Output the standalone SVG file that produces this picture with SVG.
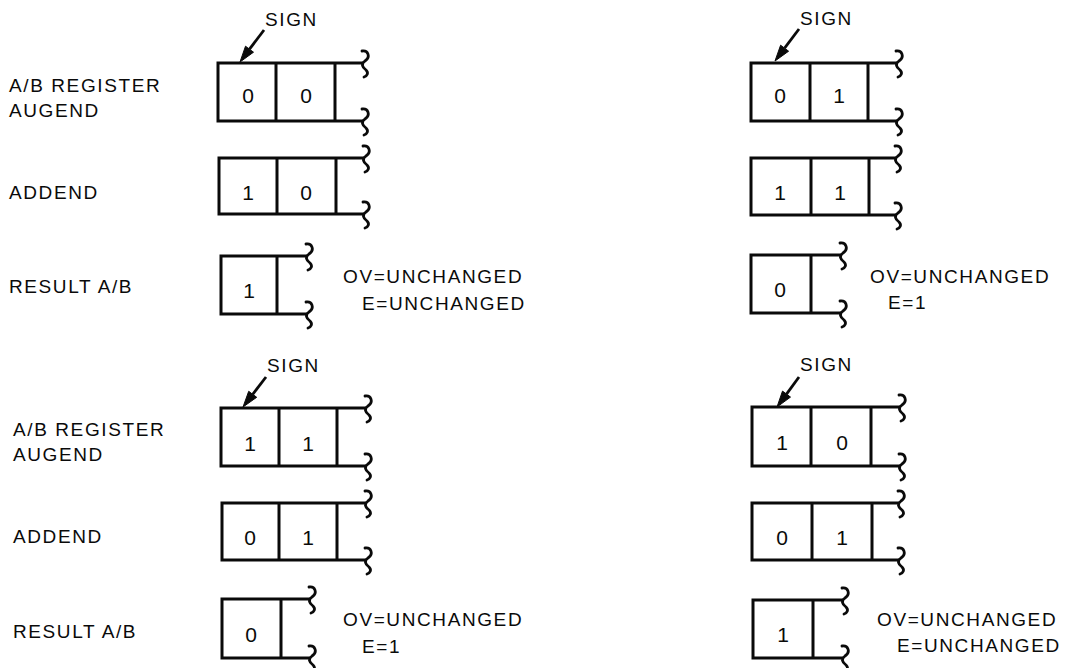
<svg xmlns="http://www.w3.org/2000/svg" width="1065" height="668" viewBox="0 0 1065 668">
<style>
.ln{stroke:#0a0a0a;stroke-width:3;fill:none;stroke-linecap:square}
.sq{stroke:#0a0a0a;stroke-width:2.8;fill:none;stroke-linecap:round}
.t{font-family:"Liberation Sans",Arial,Helvetica,sans-serif;font-size:19px;letter-spacing:1.6px;fill:#0a0a0a}
.d{font-family:"Liberation Sans",Arial,Helvetica,sans-serif;font-size:21px;text-anchor:middle;fill:#0a0a0a}
.ar{stroke:#0a0a0a;stroke-width:2.8;fill:none}
.ah{fill:#0a0a0a;stroke:#0a0a0a;stroke-width:1;stroke-linejoin:miter}
</style>
<defs>
<path id="sq" d="M0,-12 C6,-13 9,-6 3,-2 C-1,1 0,4 4,7 C7,10 5,13 2,14"/>
</defs>
<rect width="1065" height="668" fill="#ffffff"/>

<g id="labels-top">
<text class="t" x="9" y="92">A/B REGISTER</text>
<text class="t" x="9" y="117">AUGEND</text>
<text class="t" x="9" y="199">ADDEND</text>
<text class="t" x="9" y="293">RESULT A/B</text>
</g>
<g id="labels-bottom">
<text class="t" x="13" y="436">A/B REGISTER</text>
<text class="t" x="13" y="461">AUGEND</text>
<text class="t" x="13" y="543">ADDEND</text>
<text class="t" x="13" y="638">RESULT A/B</text>
</g>

<!-- Top-left example -->
<g id="tl-augend">
<path class="ln" d="M218,63 H362 M218,121 H362 M218,63 V121 M276,63 V121 M335,63 V121"/>
<use href="#sq" class="sq" x="362" y="63"/><use href="#sq" class="sq" x="362" y="121"/>
<text class="d" x="248" y="103">0</text><text class="d" x="306" y="103">0</text>
</g>
<g id="tl-addend">
<path class="ln" d="M219,158 H363 M219,214 H363 M219,158 V214 M277,158 V214 M336,158 V214"/>
<use href="#sq" class="sq" x="363" y="158"/><use href="#sq" class="sq" x="363" y="214"/>
<text class="d" x="248" y="200">1</text><text class="d" x="306" y="200">0</text>
</g>
<g id="tl-result">
<path class="ln" d="M221,256 H306 M221,314 H306 M221,256 V314 M277,256 V314"/>
<use href="#sq" class="sq" x="306" y="256"/><use href="#sq" class="sq" x="306" y="314"/>
<text class="d" x="249" y="298">1</text>
<text class="t" x="343" y="283">OV=UNCHANGED</text>
<text class="t" x="362" y="310">E=UNCHANGED</text>
</g>
<g id="tl-sign"><text class="t" x="265" y="26">SIGN</text></g>

<!-- Top-right example -->
<g id="tr-augend">
<path class="ln" d="M751,63 H896 M751,121 H896 M751,63 V121 M810,63 V121 M868,63 V121"/>
<use href="#sq" class="sq" x="896" y="63"/><use href="#sq" class="sq" x="896" y="121"/>
<text class="d" x="780" y="103">0</text><text class="d" x="839" y="103">1</text>
</g>
<g id="tr-addend">
<path class="ln" d="M751,158 H895 M751,215 H895 M751,158 V215 M811,158 V215 M869,158 V215"/>
<use href="#sq" class="sq" x="895" y="158"/><use href="#sq" class="sq" x="895" y="215"/>
<text class="d" x="780" y="200">1</text><text class="d" x="840" y="200">1</text>
</g>
<g id="tr-result">
<path class="ln" d="M751,255 H840 M751,313 H840 M751,255 V313 M811,255 V313"/>
<use href="#sq" class="sq" x="840" y="255"/><use href="#sq" class="sq" x="840" y="313"/>
<text class="d" x="780" y="297">0</text>
<text class="t" x="870" y="283">OV=UNCHANGED</text>
<text class="t" x="888" y="309">E=1</text>
</g>
<g id="tr-sign"><text class="t" x="800" y="25">SIGN</text></g>

<!-- Bottom-left example -->
<g id="bl-augend">
<path class="ln" d="M221,408 H365 M221,466 H365 M221,408 V466 M279,408 V466 M337,408 V466"/>
<use href="#sq" class="sq" x="365" y="408"/><use href="#sq" class="sq" x="365" y="466"/>
<text class="d" x="250" y="451">1</text><text class="d" x="308" y="451">1</text>
</g>
<g id="bl-addend">
<path class="ln" d="M222,503 H365 M222,560 H365 M222,503 V560 M279,503 V560 M337,503 V560"/>
<use href="#sq" class="sq" x="365" y="503"/><use href="#sq" class="sq" x="365" y="560"/>
<text class="d" x="250" y="545">0</text><text class="d" x="308" y="545">1</text>
</g>
<g id="bl-result">
<path class="ln" d="M222,599 H309 M222,658 H309 M222,599 V658 M281,599 V658"/>
<use href="#sq" class="sq" x="309" y="599"/><use href="#sq" class="sq" x="309" y="658"/>
<text class="d" x="251" y="642">0</text>
<text class="t" x="343" y="626">OV=UNCHANGED</text>
<text class="t" x="362" y="653">E=1</text>
</g>
<g id="bl-sign"><text class="t" x="267" y="372">SIGN</text></g>

<!-- Bottom-right example -->
<g id="br-augend">
<path class="ln" d="M752,407 H899 M752,466 H899 M752,407 V466 M811,407 V466 M871,407 V466"/>
<use href="#sq" class="sq" x="899" y="407"/><use href="#sq" class="sq" x="899" y="466"/>
<text class="d" x="782" y="450">1</text><text class="d" x="842" y="450">0</text>
</g>
<g id="br-addend">
<path class="ln" d="M752,503 H898 M752,560 H898 M752,503 V560 M812,503 V560 M872,503 V560"/>
<use href="#sq" class="sq" x="898" y="503"/><use href="#sq" class="sq" x="898" y="560"/>
<text class="d" x="782" y="545">0</text><text class="d" x="842" y="545">1</text>
</g>
<g id="br-result">
<path class="ln" d="M753,600 H842 M753,658 H842 M753,600 V658 M813,600 V658"/>
<use href="#sq" class="sq" x="842" y="600"/><use href="#sq" class="sq" x="842" y="658"/>
<text class="d" x="783" y="642">1</text>
<text class="t" x="877" y="626">OV=UNCHANGED</text>
<text class="t" x="897" y="652">E=UNCHANGED</text>
</g>
<g id="br-sign"><text class="t" x="800" y="371">SIGN</text></g>

<g id="connectors">
<line class="ar" x1="264" y1="30" x2="249.5" y2="49.2"/>
<polygon class="ah" points="240,62 253.5,52.2 245.5,46.2"/>
<line class="ar" x1="799" y1="29" x2="784.6" y2="48.2"/>
<polygon class="ah" points="775,61 788.6,51.2 780.6,45.2"/>
<line class="ar" x1="266" y1="377" x2="252.7" y2="394.3"/>
<polygon class="ah" points="243,407 256.7,397.3 248.7,391.3"/>
<line class="ar" x1="799" y1="377" x2="786.5" y2="394.1"/>
<polygon class="ah" points="777,407 790.5,397.1 782.5,391.1"/>
</g>
</svg>
